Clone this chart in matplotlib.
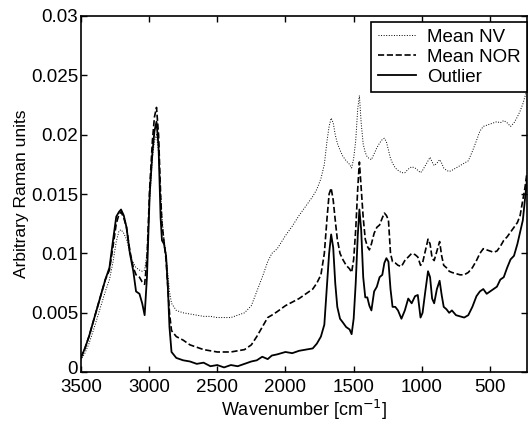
import numpy as np
import matplotlib
matplotlib.use("Agg")
import matplotlib.pyplot as plt
import matplotlib.transforms as mtransforms

plt.rcParams['font.family'] = ['Liberation Sans', 'DejaVu Sans']

# wavenumber grid [cm^-1], shared by all three spectra
wavenumber = [3500, 3470, 3440, 3400, 3360, 3320, 3290, 3265, 3240, 3220, 3205, 3185, 3165, 3140,
              3115, 3095, 3070, 3050, 3032, 3015, 2995, 2975, 2960, 2945, 2930, 2915, 2905, 2890,
              2875, 2862, 2850, 2835, 2800, 2750, 2700, 2650, 2600, 2550, 2500, 2450, 2400, 2350,
              2300, 2250, 2210, 2170, 2130, 2100, 2060, 2000, 1950, 1900, 1850, 1800, 1770, 1740,
              1715, 1695, 1680, 1665, 1650, 1635, 1620, 1600, 1580, 1555, 1530, 1515, 1500, 1485,
              1470, 1458, 1445, 1430, 1415, 1400, 1385, 1370, 1350, 1330, 1310, 1290, 1275, 1260,
              1245, 1230, 1215, 1195, 1175, 1150, 1125, 1100, 1075, 1050, 1030, 1010, 995, 975,
              955, 940, 925, 910, 890, 870, 855, 840, 820, 800, 780, 750, 720, 690, 660, 630, 600,
              575, 550, 525, 500, 475, 450, 425, 400, 375, 350, 325, 300, 280, 260, 245, 230]

mean_nv = [0.0010, 0.0016, 0.0024, 0.0038, 0.0053, 0.0068, 0.0078, 0.0092, 0.0110, 0.0119, 0.0120,
           0.0117, 0.0112, 0.0100, 0.0092, 0.0088, 0.0086, 0.0085, 0.0086, 0.0100, 0.0145, 0.0180,
           0.0195, 0.0200, 0.0185, 0.0150, 0.0130, 0.0112, 0.0098, 0.0083, 0.0068, 0.0058, 0.0052,
           0.0050, 0.0049, 0.0048, 0.0047, 0.0047, 0.0046, 0.0046, 0.0046, 0.0048, 0.0050, 0.0056,
           0.0068, 0.0080, 0.0093, 0.0100, 0.0104, 0.0115, 0.0123, 0.0132, 0.0140, 0.0148, 0.0154,
           0.0163, 0.0175, 0.0195, 0.0207, 0.0214, 0.0210, 0.0200, 0.0193, 0.0187, 0.0182, 0.0178,
           0.0175, 0.0172, 0.0180, 0.0195, 0.0222, 0.0233, 0.0210, 0.0192, 0.0185, 0.0181, 0.0180,
           0.0179, 0.0184, 0.0189, 0.0193, 0.0196, 0.0197, 0.0194, 0.0187, 0.0180, 0.0176, 0.0172,
           0.0170, 0.0168, 0.0168, 0.0171, 0.0173, 0.0172, 0.0170, 0.0168, 0.0170, 0.0174, 0.0178,
           0.0181, 0.0177, 0.0174, 0.0176, 0.0179, 0.0176, 0.0172, 0.0170, 0.0169, 0.0170, 0.0172,
           0.0174, 0.0176, 0.0178, 0.0186, 0.0195, 0.0203, 0.0207, 0.0208, 0.0209, 0.0210, 0.0211,
           0.0210, 0.0212, 0.0210, 0.0207, 0.0210, 0.0215, 0.0220, 0.0226, 0.0232, 0.0238]

mean_nor = [0.0012, 0.0020, 0.0030, 0.0046, 0.0062, 0.0078, 0.0086, 0.0105, 0.0125, 0.0133, 0.0135,
            0.0130, 0.0122, 0.0102, 0.0088, 0.0082, 0.0080, 0.0076, 0.0074, 0.0095, 0.0155, 0.0195,
            0.0215, 0.0223, 0.0200, 0.0150, 0.0125, 0.0110, 0.0095, 0.0072, 0.0050, 0.0035, 0.0030,
            0.0027, 0.0023, 0.0021, 0.0019, 0.0018, 0.0017, 0.0017, 0.0017, 0.0018, 0.0019, 0.0023,
            0.0030, 0.0038, 0.0046, 0.0048, 0.0051, 0.0056, 0.0059, 0.0062, 0.0066, 0.0070, 0.0075,
            0.0082, 0.0100, 0.0130, 0.0150, 0.0155, 0.0145, 0.0128, 0.0112, 0.0100, 0.0095, 0.0090,
            0.0087, 0.0084, 0.0095, 0.0120, 0.0155, 0.0177, 0.0155, 0.0130, 0.0112, 0.0106, 0.0103,
            0.0108, 0.0117, 0.0122, 0.0124, 0.0130, 0.0134, 0.0132, 0.0128, 0.0100, 0.0093, 0.0092,
            0.0090, 0.0089, 0.0094, 0.0097, 0.0100, 0.0099, 0.0097, 0.0090, 0.0092, 0.0102, 0.0112,
            0.0108, 0.0096, 0.0094, 0.0102, 0.0110, 0.0098, 0.0090, 0.0088, 0.0085, 0.0084, 0.0083,
            0.0082, 0.0082, 0.0084, 0.0088, 0.0094, 0.0100, 0.0104, 0.0103, 0.0102, 0.0101, 0.0102,
            0.0106, 0.0111, 0.0114, 0.0118, 0.0122, 0.0126, 0.0132, 0.0145, 0.0155, 0.0168]

outlier = [0.0012, 0.0020, 0.0030, 0.0046, 0.0062, 0.0078, 0.0088, 0.0110, 0.0131, 0.0135, 0.0137,
           0.0132, 0.0122, 0.0100, 0.0085, 0.0068, 0.0066, 0.0058, 0.0048, 0.0080, 0.0150, 0.0185,
           0.0203, 0.0211, 0.0190, 0.0130, 0.0111, 0.0108, 0.0098, 0.0072, 0.0038, 0.0017, 0.0012,
           0.0010, 0.0009, 0.0007, 0.0008, 0.0005, 0.0006, 0.0004, 0.0006, 0.0005, 0.0007, 0.0009,
           0.0010, 0.0013, 0.0011, 0.0014, 0.0015, 0.0017, 0.0016, 0.0018, 0.0019, 0.0020, 0.0024,
           0.0030, 0.0040, 0.0075, 0.0100, 0.0116, 0.0105, 0.0075, 0.0055, 0.0045, 0.0042, 0.0038,
           0.0036, 0.0032, 0.0045, 0.0075, 0.0115, 0.0137, 0.0120, 0.0080, 0.0063, 0.0063, 0.0056,
           0.0052, 0.0068, 0.0072, 0.0080, 0.0082, 0.0092, 0.0096, 0.0093, 0.0070, 0.0055, 0.0055,
           0.0052, 0.0045, 0.0052, 0.0062, 0.0058, 0.0064, 0.0065, 0.0046, 0.0050, 0.0068, 0.0085,
           0.0080, 0.0062, 0.0058, 0.0070, 0.0077, 0.0065, 0.0055, 0.0053, 0.0050, 0.0052, 0.0048,
           0.0047, 0.0046, 0.0048, 0.0055, 0.0064, 0.0068, 0.0070, 0.0066, 0.0068, 0.0070, 0.0072,
           0.0078, 0.0080, 0.0088, 0.0095, 0.0098, 0.0108, 0.0118, 0.0128, 0.0145, 0.0162]

fig = plt.figure(figsize=(5.28, 4.21), dpi=100)
ax = fig.add_axes([0.153, 0.116, 0.845, 0.846])

ax.plot(wavenumber, mean_nv, color='black', linestyle=':', linewidth=0.7, label='Mean NV')
ax.plot(wavenumber, mean_nor, color='black', linestyle='--', linewidth=1.2, label='Mean NOR')
ax.plot(wavenumber, outlier, color='black', linestyle='-', linewidth=1.3, label='Outlier')

ax.set_xlim(3500, 230)
ax.set_ylim(0, 0.03)
ax.set_xticks([3500, 3000, 2500, 2000, 1500, 1000, 500])
ax.set_yticks([0, 0.005, 0.01, 0.015, 0.02, 0.025, 0.03])
ax.set_yticklabels(['0', '0.005', '0.01', '0.015', '0.02', '0.025', '0.03'])
ax.tick_params(direction='in', top=True, right=True, length=4, width=1, labelsize=13.5)
ax.tick_params(axis='x', pad=5)
ax.tick_params(axis='y', pad=2)
for s in ax.spines.values():
    s.set_linewidth(1.2)

# nudge the "0" y label up a little so it doesn't touch "3500"
zero_lbl = ax.get_yticklabels()[0]
zero_lbl.set_transform(zero_lbl.get_transform() +
                       mtransforms.ScaledTranslation(0, 3 / 72, fig.dpi_scale_trans))

ax.set_xlabel('Wavenumber [cm$^{-1}$]', fontsize=13, labelpad=1)
ax.set_ylabel('Arbitrary Raman units', fontsize=12.5, labelpad=1)

leg = ax.legend(loc='upper right', bbox_to_anchor=(1.0, 0.983), borderaxespad=0,
                fontsize=13.5, handlelength=2.0, labelspacing=0.15, borderpad=0.35,
                handletextpad=0.6, fancybox=False, framealpha=1)
leg.get_frame().set_edgecolor('black')
leg.get_frame().set_linewidth(1.2)

fig.savefig('out.png', dpi=100)
